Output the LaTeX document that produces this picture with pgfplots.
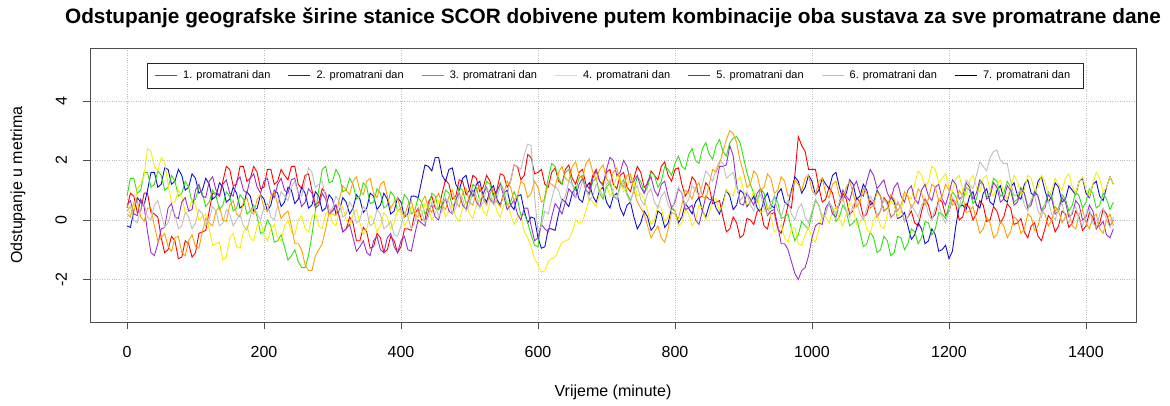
\documentclass[border=0pt]{standalone}
\usepackage{pgfplots}
\pgfplotsset{compat=1.18}
\usepackage{fontspec}
\setmainfont{Liberation Sans}
\definecolor{sred}{HTML}{FF0000}
\definecolor{sblue}{HTML}{1010D0}
\definecolor{sgreen}{HTML}{30E010}
\definecolor{syellow}{HTML}{F5F000}
\definecolor{spurple}{HTML}{9932CC}
\definecolor{sorange}{HTML}{FF9F00}
\definecolor{sgrey}{HTML}{BEBEBE}
\definecolor{lred}{HTML}{E02030}
\definecolor{lblue}{HTML}{2020B0}
\definecolor{lgreen}{HTML}{20D020}
\definecolor{lyellow}{HTML}{F0F020}
\definecolor{lbrown}{HTML}{A52A2A}
\definecolor{lgold}{HTML}{E8D000}
\begin{document}
\begin{tikzpicture}[x=1pt,y=1pt]
\begin{axis}[
  name=ax, scale only axis,
  width=1046pt, height=274pt,
  xmin=-54, xmax=1473, ymin=-3.43, ymax=5.78,
  xtick={0,200,...,1400}, ytick={-2,0,2,4},
  grid=major, grid style={dotted, gray!50, line width=0.7pt},
  tick align=outside, major tick length=7pt,
  xtick pos=bottom, ytick pos=left,
  axis line style={line width=0.8pt, black!70},
  every tick/.style={line width=0.8pt, black!70},
  /pgf/number format/assume math mode=true,
  /pgf/number format/1000 sep={},
  ticklabel style={font=\fontsize{16}{19}\selectfont, inner sep=0pt},
  xticklabel style={anchor=north, yshift=-17pt},
  yticklabel style={xshift=-16pt, rotate=90, anchor=south},
  every axis plot/.append style={line width=0.9pt},
]
\addplot[sred] table[row sep=\\, x expr=\coordindex*5, y index=0] {y\\0.4\\0.9\\0.8\\0.25\\0.3\\0.9\\0.9\\0.25\\0.2\\0.1\\-0.6\\-1.1\\-1.0\\-0.55\\-0.7\\-1.3\\-1.25\\-0.7\\-0.8\\-1.25\\-1.1\\-0.45\\-0.4\\-0.35\\0.3\\0.9\\0.9\\0.8\\1.3\\1.8\\1.7\\1.15\\1.2\\1.8\\1.8\\1.3\\1.4\\1.8\\1.6\\1.05\\1.1\\1.7\\1.7\\1.2\\1.3\\1.7\\1.5\\1.35\\1.8\\1.8\\1.2\\1.05\\1.5\\1.55\\1.0\\0.5\\0.6\\1.05\\0.9\\0.3\\0.3\\0.5\\0.1\\-0.4\\-0.3\\0.1\\-0.1\\-0.7\\-0.7\\-0.25\\-0.4\\-0.95\\-0.9\\-0.45\\-0.6\\-1.1\\-1.0\\-0.55\\-0.7\\-1.1\\-0.9\\-0.3\\-0.3\\-0.35\\0.2\\0.4\\0.0\\0.0\\0.6\\0.8\\0.4\\0.35\\0.9\\1.35\\1.2\\0.7\\0.8\\1.35\\1.3\\0.85\\1.0\\1.5\\1.4\\0.95\\1.1\\1.5\\1.3\\0.85\\1.0\\1.55\\1.5\\1.1\\1.3\\1.85\\1.8\\1.35\\1.5\\2.2\\2.1\\1.55\\1.6\\1.7\\1.2\\1.1\\1.6\\1.75\\1.3\\1.2\\1.7\\1.85\\1.4\\1.2\\1.6\\1.7\\1.2\\1.05\\1.5\\1.7\\1.3\\1.15\\1.6\\1.7\\1.2\\1.05\\1.5\\1.6\\1.1\\0.95\\1.4\\1.8\\1.6\\1.1\\1.2\\1.65\\1.5\\1.35\\1.8\\1.95\\1.5\\1.3\\1.7\\1.75\\1.2\\0.8\\1.0\\1.45\\1.3\\0.75\\0.8\\1.25\\1.1\\0.55\\0.6\\0.65\\0.1\\-0.4\\-0.3\\0.1\\-0.1\\-0.6\\-0.5\\0.05\\0.0\\-0.15\\0.3\\0.35\\-0.2\\-0.3\\0.2\\0.25\\-0.3\\-0.45\\0.0\\0.5\\0.4\\1.5\\2.8\\2.5\\2.3\\1.7\\1.7\\1.7\\1.1\\0.6\\0.7\\1.1\\0.9\\0.4\\0.5\\0.9\\0.7\\0.2\\0.3\\0.75\\0.6\\0.1\\0.2\\0.65\\0.5\\0.1\\0.3\\0.75\\0.6\\0.1\\0.2\\0.6\\0.4\\-0.05\\0.1\\0.3\\-0.1\\-0.2\\0.3\\0.7\\0.5\\0.05\\0.2\\0.7\\0.6\\0.15\\0.3\\0.7\\0.5\\0.0\\0.1\\0.55\\0.4\\0.0\\0.2\\0.65\\0.5\\-0.05\\0.0\\0.45\\0.3\\-0.1\\0.1\\0.55\\0.4\\-0.15\\-0.1\\0.05\\-0.4\\-0.6\\-0.2\\-0.1\\-0.55\\-0.7\\-0.3\\0.15\\0.0\\-0.4\\-0.2\\0.3\\0.2\\-0.25\\-0.1\\0.3\\0.1\\-0.35\\-0.2\\0.25\\0.1\\-0.3\\-0.1\\0.35\\0.2\\-0.2\\0.0\\};
\addplot[sblue] table[row sep=\\, x expr=\coordindex*5, y index=0] {y\\-0.2\\-0.25\\0.3\\0.75\\0.6\\0.5\\1.0\\1.6\\1.6\\1.1\\1.2\\1.75\\1.7\\1.2\\1.3\\1.7\\1.5\\1.0\\1.1\\1.55\\1.4\\0.9\\1.0\\1.4\\1.2\\0.7\\0.8\\1.25\\1.1\\0.6\\0.7\\1.1\\0.9\\0.4\\0.5\\0.95\\0.8\\0.3\\0.4\\0.85\\0.7\\0.3\\0.5\\1.0\\0.9\\0.45\\0.6\\1.1\\1.0\\0.55\\0.7\\1.1\\0.9\\0.4\\0.5\\0.95\\0.8\\0.3\\0.4\\0.85\\0.7\\0.2\\0.3\\0.75\\0.6\\0.2\\0.4\\0.85\\0.7\\0.25\\0.4\\0.9\\0.8\\0.35\\0.5\\0.9\\0.7\\0.2\\0.3\\0.75\\0.6\\0.1\\0.2\\0.8\\0.8\\0.75\\1.3\\1.85\\1.8\\1.65\\2.1\\2.1\\1.5\\1.3\\1.7\\1.75\\1.2\\1.0\\1.4\\1.5\\1.0\\0.8\\1.2\\1.3\\0.8\\0.6\\1.0\\1.15\\0.7\\0.5\\0.9\\1.0\\0.5\\0.35\\0.8\\0.85\\0.3\\-0.1\\0.1\\0.05\\-0.6\\-0.95\\-0.9\\-0.3\\-0.3\\-0.35\\0.2\\0.7\\0.6\\0.45\\0.9\\1.1\\0.7\\0.6\\1.1\\1.25\\0.8\\0.6\\1.0\\1.1\\0.6\\0.4\\0.8\\0.9\\0.4\\0.15\\0.5\\0.6\\0.1\\-0.3\\-0.1\\0.3\\0.1\\-0.35\\-0.2\\0.3\\0.2\\-0.25\\-0.1\\0.4\\0.3\\-0.1\\0.1\\0.55\\0.4\\0.2\\0.6\\0.75\\0.3\\0.1\\0.5\\0.75\\0.4\\0.2\\0.6\\1.0\\0.8\\0.35\\0.5\\1.0\\0.9\\0.45\\0.6\\0.8\\0.4\\0.25\\0.7\\0.9\\0.5\\0.4\\0.9\\1.05\\0.6\\0.5\\1.0\\1.45\\1.3\\0.9\\1.1\\1.5\\1.3\\0.85\\1.0\\1.4\\1.2\\1.05\\1.5\\1.6\\1.1\\0.7\\0.9\\1.35\\1.2\\0.7\\0.8\\1.2\\1.0\\0.5\\0.6\\1.0\\0.8\\0.3\\0.4\\0.8\\0.6\\0.05\\0.1\\0.25\\-0.2\\-0.65\\-0.5\\-0.1\\-0.3\\-0.8\\-0.7\\-0.3\\-0.5\\-1.05\\-1.0\\-0.85\\-1.3\\-1.05\\-0.2\\0.45\\0.5\\0.35\\0.8\\0.95\\0.5\\0.4\\0.9\\1.05\\0.6\\0.5\\1.0\\1.15\\0.7\\0.6\\1.1\\1.25\\0.8\\0.7\\1.2\\1.35\\0.9\\0.8\\1.3\\1.45\\1.0\\0.6\\0.8\\1.25\\1.1\\0.6\\0.7\\1.15\\1.0\\0.85\\1.3\\1.4\\0.9\\0.75\\1.2\\1.3\\0.8\\0.65\\1.1\\1.45\\1.2\\};
\addplot[sgreen] table[row sep=\\, x expr=\coordindex*5, y index=0] {y\\0.8\\1.4\\1.4\\0.9\\1.0\\1.6\\1.6\\1.1\\1.2\\1.65\\1.5\\1.0\\1.1\\1.5\\1.3\\0.8\\0.9\\1.3\\1.1\\0.6\\0.7\\1.1\\0.9\\0.45\\0.6\\1.0\\0.8\\0.35\\0.5\\0.95\\0.8\\0.3\\0.4\\0.85\\0.7\\0.2\\0.3\\0.5\\0.1\\-0.45\\-0.4\\0.0\\-0.2\\-0.75\\-0.7\\-0.5\\-0.9\\-1.35\\-1.2\\-1.0\\-1.4\\-1.6\\-1.6\\-1.2\\-0.5\\0.3\\1.0\\1.7\\1.8\\1.25\\1.3\\1.7\\1.5\\0.95\\1.0\\1.4\\1.2\\0.7\\0.8\\1.25\\1.1\\0.55\\0.6\\1.05\\0.9\\0.4\\0.5\\0.95\\0.8\\0.3\\0.4\\0.85\\0.7\\0.2\\0.3\\0.75\\0.6\\0.2\\0.4\\0.9\\0.8\\0.35\\0.5\\1.0\\0.9\\0.45\\0.6\\1.1\\1.0\\0.55\\0.7\\1.2\\1.1\\0.65\\0.8\\1.3\\1.2\\0.75\\0.9\\1.25\\1.0\\0.5\\0.6\\0.95\\0.7\\0.15\\0.2\\-0.1\\-0.5\\-0.85\\-0.9\\0.0\\0.8\\1.4\\1.9\\1.8\\1.4\\1.2\\1.6\\1.7\\1.2\\1.0\\1.4\\1.5\\1.0\\0.85\\1.3\\1.4\\0.9\\0.7\\1.1\\1.25\\0.8\\0.7\\1.2\\1.35\\0.9\\0.65\\1.0\\1.45\\1.3\\0.9\\1.1\\1.6\\1.5\\1.1\\1.3\\1.8\\1.7\\1.5\\1.9\\2.15\\1.8\\1.7\\2.2\\2.4\\2.0\\1.9\\2.4\\2.6\\2.2\\2.05\\2.5\\2.7\\2.3\\2.15\\2.6\\2.75\\2.8\\2.6\\2.1\\1.6\\1.2\\0.9\\0.6\\1.05\\0.9\\0.35\\0.4\\0.8\\0.6\\0.05\\0.1\\0.2\\-0.3\\-0.7\\-0.5\\-0.05\\-0.2\\-0.3\\0.2\\0.65\\0.5\\0.05\\0.2\\0.6\\0.4\\-0.05\\0.1\\0.5\\0.3\\-0.2\\-0.1\\0.05\\-0.4\\-0.9\\-0.8\\-0.4\\-0.6\\-1.1\\-1.0\\-0.55\\-0.7\\-1.2\\-1.1\\-0.55\\-0.6\\-1.0\\-0.8\\-0.3\\-0.4\\-0.8\\-0.6\\-0.05\\-0.1\\-0.5\\-0.3\\0.25\\0.2\\0.05\\0.5\\0.95\\0.8\\0.4\\0.6\\1.1\\1.0\\0.55\\0.7\\1.25\\1.2\\0.75\\0.9\\1.4\\1.3\\0.8\\0.9\\1.3\\1.1\\0.6\\0.7\\1.1\\0.9\\0.45\\0.6\\1.0\\0.8\\0.35\\0.5\\0.95\\0.8\\0.3\\0.4\\0.85\\0.7\\0.3\\0.5\\0.95\\0.8\\0.4\\0.6\\1.05\\0.9\\0.4\\0.5\\0.9\\0.7\\0.35\\0.6\\};
\addplot[syellow] table[row sep=\\, x expr=\coordindex*5, y index=0] {y\\0.6\\0.15\\0.3\\1.05\\1.2\\1.5\\2.4\\2.3\\1.8\\1.65\\2.1\\1.95\\1.2\\0.6\\0.6\\1.0\\0.8\\0.25\\0.3\\0.7\\0.5\\0.0\\0.1\\0.2\\-0.3\\-0.85\\-0.8\\-0.75\\-1.35\\-1.25\\-0.6\\-0.45\\-0.9\\-0.95\\-0.4\\-0.2\\-0.6\\-0.7\\-0.2\\-0.05\\-0.5\\-0.7\\-0.3\\-0.15\\-0.6\\-0.7\\-0.2\\0.0\\-0.4\\-0.5\\0.0\\0.15\\-0.3\\-0.4\\0.1\\0.25\\-0.2\\-0.3\\0.2\\0.35\\-0.1\\-0.2\\0.3\\0.45\\0.0\\-0.2\\0.2\\0.35\\-0.1\\-0.5\\-0.3\\0.15\\0.0\\-0.4\\-0.2\\0.25\\0.1\\-0.3\\-0.1\\0.35\\0.2\\-0.2\\0.0\\0.45\\0.3\\-0.1\\0.1\\0.55\\0.4\\0.0\\0.2\\0.65\\0.5\\0.1\\0.3\\0.5\\0.1\\-0.05\\0.4\\0.6\\0.2\\0.05\\0.5\\0.7\\0.3\\0.15\\0.6\\0.75\\0.3\\0.1\\0.5\\0.65\\0.2\\-0.15\\0.1\\0.15\\-0.4\\-0.6\\-0.9\\-1.3\\-1.5\\-1.75\\-1.7\\-1.4\\-1.3\\-1.25\\-1.0\\-0.75\\-0.7\\-0.65\\-0.4\\0.0\\-0.1\\-0.05\\0.3\\0.75\\0.6\\0.45\\0.9\\1.35\\1.2\\0.8\\1.0\\1.5\\1.4\\0.95\\1.1\\1.5\\1.3\\0.8\\0.9\\0.7\\0.3\\-0.15\\0.0\\0.5\\0.4\\-0.05\\0.1\\0.5\\0.3\\-0.2\\-0.1\\0.35\\0.2\\-0.2\\0.0\\0.5\\0.4\\0.0\\0.2\\0.75\\0.7\\0.3\\0.5\\1.0\\0.9\\0.8\\1.3\\1.45\\1.0\\0.5\\0.6\\1.0\\0.8\\0.25\\0.3\\0.5\\0.1\\-0.4\\-0.3\\-0.15\\-0.6\\-0.75\\-0.3\\-0.25\\-0.8\\-0.85\\-0.5\\-0.25\\-0.6\\-0.75\\-0.3\\0.2\\0.1\\-0.1\\0.3\\0.45\\0.0\\-0.2\\0.2\\0.6\\0.4\\-0.15\\-0.1\\0.1\\-0.3\\-0.45\\0.0\\0.2\\-0.2\\-0.3\\0.2\\0.65\\0.5\\0.1\\0.3\\0.85\\0.8\\0.7\\1.2\\1.65\\1.5\\1.1\\1.3\\1.8\\1.7\\1.25\\1.4\\1.55\\1.1\\0.95\\1.4\\1.5\\1.0\\0.85\\1.3\\1.5\\1.1\\0.95\\1.4\\1.5\\1.0\\0.8\\1.2\\1.35\\0.9\\0.7\\1.1\\1.5\\1.3\\0.85\\1.0\\1.5\\1.4\\0.95\\1.1\\1.5\\1.3\\0.85\\1.0\\1.4\\1.2\\1.0\\1.4\\1.55\\1.1\\0.9\\1.3\\1.45\\1.0\\0.8\\1.2\\1.6\\1.4\\0.95\\1.1\\1.45\\1.2\\};
\addplot[spurple] table[row sep=\\, x expr=\coordindex*5, y index=0] {y\\0.5\\0.65\\0.2\\0.15\\0.7\\0.45\\-0.4\\-1.1\\-1.2\\-0.8\\-0.3\\-0.25\\0.4\\0.55\\0.1\\0.05\\0.6\\0.75\\0.3\\0.35\\1.0\\1.2\\0.8\\0.75\\1.3\\1.45\\1.0\\0.8\\1.2\\1.35\\0.9\\0.8\\1.3\\1.45\\1.0\\0.9\\1.4\\1.55\\1.1\\0.9\\1.3\\1.4\\0.9\\0.75\\1.2\\1.4\\1.0\\0.9\\1.35\\1.4\\0.9\\0.45\\0.6\\1.05\\0.9\\0.4\\0.5\\0.9\\0.7\\0.2\\0.3\\0.5\\0.1\\-0.4\\-0.3\\-0.15\\-0.6\\-1.05\\-0.9\\-0.7\\-1.1\\-1.2\\-0.7\\-0.55\\-1.0\\-1.1\\-0.6\\-0.45\\-0.9\\-1.1\\-0.7\\-0.55\\-1.0\\-1.05\\-0.5\\0.0\\-0.1\\-0.2\\0.3\\0.5\\0.1\\0.0\\0.5\\0.7\\0.3\\0.2\\0.7\\0.9\\0.5\\0.35\\0.8\\1.0\\0.6\\0.45\\0.9\\1.1\\0.7\\0.55\\1.0\\1.2\\0.8\\0.35\\0.5\\0.65\\0.2\\0.0\\0.4\\0.4\\-0.2\\-0.7\\-0.6\\-0.15\\-0.3\\-0.4\\0.1\\0.55\\0.4\\0.2\\0.6\\1.05\\0.9\\0.75\\1.2\\1.4\\1.0\\0.9\\1.4\\1.65\\1.3\\1.2\\1.7\\2.1\\2.0\\1.5\\1.6\\2.0\\1.8\\1.25\\1.3\\1.5\\1.1\\0.9\\1.3\\1.45\\1.0\\0.8\\1.2\\1.3\\0.8\\0.4\\0.6\\1.05\\0.9\\0.35\\0.4\\0.5\\0.0\\-0.15\\0.3\\0.8\\0.7\\0.65\\1.2\\1.8\\1.8\\1.85\\2.5\\2.15\\1.2\\0.55\\0.5\\0.9\\0.7\\0.5\\0.9\\1.05\\0.6\\0.15\\0.3\\0.35\\-0.2\\-0.8\\-0.8\\-1.0\\-1.4\\-1.8\\-2.0\\-1.7\\-1.6\\-1.2\\-0.6\\-0.2\\-0.1\\-0.15\\0.4\\0.6\\0.2\\0.1\\0.6\\1.0\\0.8\\0.65\\1.1\\1.3\\0.9\\0.8\\1.3\\1.7\\1.5\\1.05\\1.2\\1.35\\0.9\\0.7\\1.1\\1.25\\0.8\\0.6\\1.0\\1.15\\0.7\\0.55\\1.0\\1.2\\0.8\\0.65\\1.1\\1.2\\0.7\\0.5\\0.9\\1.35\\1.2\\0.7\\0.8\\1.25\\1.1\\0.7\\0.9\\1.35\\1.2\\0.7\\0.8\\1.25\\1.1\\0.6\\0.7\\1.15\\1.0\\0.5\\0.6\\1.05\\0.9\\0.4\\0.5\\0.95\\0.8\\0.3\\0.4\\0.85\\0.7\\0.2\\0.3\\0.75\\0.6\\0.1\\0.2\\0.65\\0.5\\0.0\\0.1\\0.5\\0.3\\-0.25\\-0.2\\-0.05\\-0.5\\-0.6\\-0.3\\};
\addplot[sorange] table[row sep=\\, x expr=\coordindex*5, y index=0] {y\\0.2\\0.1\\0.6\\0.65\\0.1\\-0.05\\0.4\\0.4\\-0.2\\-0.7\\-0.6\\-0.45\\-0.9\\-1.05\\-0.6\\-0.55\\-1.1\\-1.2\\-0.7\\-0.5\\-0.9\\-0.95\\-0.4\\0.05\\-0.1\\-0.2\\0.3\\0.45\\0.0\\-0.05\\0.5\\0.65\\0.2\\0.1\\0.6\\0.75\\0.3\\0.2\\0.7\\0.85\\0.4\\0.3\\0.8\\0.95\\0.5\\0.05\\0.2\\0.3\\-0.2\\-0.8\\-0.8\\-1.0\\-1.5\\-1.7\\-1.7\\-1.2\\-1.0\\-0.8\\-0.3\\0.25\\0.2\\0.15\\0.7\\1.15\\1.0\\0.85\\1.3\\1.45\\1.0\\0.85\\1.3\\1.4\\0.9\\0.75\\1.2\\1.3\\0.8\\0.4\\0.6\\0.75\\0.3\\0.1\\0.5\\0.65\\0.2\\0.1\\0.6\\0.8\\0.4\\0.25\\0.7\\0.9\\0.5\\0.35\\0.8\\1.0\\0.6\\0.45\\0.9\\1.05\\0.6\\0.5\\1.0\\1.15\\0.7\\0.5\\0.9\\1.05\\0.6\\0.45\\0.9\\1.3\\1.1\\0.65\\0.8\\1.3\\1.2\\0.75\\0.9\\1.3\\1.1\\0.6\\0.7\\1.25\\1.2\\1.1\\1.6\\1.8\\1.4\\1.3\\1.8\\1.95\\1.5\\1.4\\1.9\\2.05\\1.6\\1.35\\1.7\\1.85\\1.4\\1.2\\1.6\\1.75\\1.3\\1.1\\1.5\\1.55\\1.0\\0.6\\0.4\\0.2\\-0.2\\-0.6\\-0.4\\-0.2\\-0.6\\-0.75\\-0.3\\0.25\\0.2\\0.05\\0.5\\1.0\\0.9\\0.7\\1.1\\1.25\\0.8\\0.7\\1.2\\1.7\\1.6\\1.9\\2.3\\2.7\\3.0\\2.9\\2.6\\2.0\\1.6\\1.1\\1.2\\1.65\\1.5\\1.0\\1.1\\1.55\\1.4\\0.9\\1.0\\1.45\\1.3\\0.8\\0.9\\1.35\\1.2\\1.0\\1.4\\1.5\\1.0\\0.85\\1.3\\1.4\\0.9\\0.75\\1.2\\1.3\\0.8\\0.65\\1.1\\1.3\\0.9\\0.45\\0.6\\1.05\\0.9\\0.4\\0.5\\0.95\\0.8\\0.3\\0.4\\0.85\\0.7\\0.3\\0.5\\0.95\\0.8\\0.4\\0.6\\1.05\\0.9\\0.5\\0.7\\1.2\\1.1\\0.65\\0.8\\1.2\\1.0\\0.5\\0.6\\1.0\\0.8\\0.25\\0.3\\0.45\\0.0\\-0.45\\-0.3\\0.1\\-0.1\\-0.6\\-0.5\\-0.05\\-0.2\\-0.6\\-0.4\\0.1\\0.0\\-0.45\\-0.3\\0.2\\0.1\\-0.35\\-0.2\\0.3\\0.2\\-0.2\\0.0\\0.45\\0.3\\-0.1\\0.1\\0.25\\-0.2\\-0.3\\0.2\\0.35\\-0.1\\-0.3\\0.1\\0.2\\-0.3\\-0.45\\0.0\\0.2\\-0.2\\};
\addplot[sgrey] table[row sep=\\, x expr=\coordindex*5, y index=0] {y\\0.3\\0.45\\0.0\\-0.1\\0.4\\0.55\\0.1\\0.0\\0.5\\0.65\\0.2\\-0.25\\-0.1\\0.35\\0.2\\-0.3\\-0.2\\0.25\\0.1\\-0.3\\-0.1\\0.35\\0.2\\-0.2\\0.0\\0.45\\0.3\\-0.2\\-0.1\\0.35\\0.2\\-0.2\\0.0\\0.2\\-0.2\\-0.35\\0.1\\0.45\\0.2\\0.0\\0.4\\0.55\\0.1\\0.0\\0.5\\0.95\\0.8\\0.65\\1.1\\1.3\\0.9\\0.8\\1.3\\1.75\\1.6\\1.1\\1.2\\1.3\\0.8\\0.3\\0.4\\0.8\\0.6\\0.1\\0.2\\0.6\\0.4\\-0.1\\0.0\\0.45\\0.3\\-0.2\\-0.1\\0.35\\0.2\\-0.3\\-0.2\\-0.05\\-0.5\\-0.55\\-0.2\\0.25\\0.1\\-0.3\\-0.1\\0.4\\0.3\\-0.1\\0.1\\0.6\\0.5\\0.1\\0.3\\0.75\\0.6\\0.2\\0.4\\0.85\\0.7\\0.3\\0.5\\0.95\\0.8\\0.4\\0.6\\1.05\\0.9\\0.5\\0.7\\1.15\\1.0\\0.85\\1.3\\1.85\\1.8\\1.7\\2.2\\2.55\\2.5\\0.8\\-0.4\\-0.2\\0.3\\0.2\\0.7\\1.15\\1.0\\0.6\\0.8\\1.3\\1.2\\0.75\\0.9\\1.3\\1.1\\0.65\\0.8\\1.2\\1.0\\0.8\\1.2\\1.35\\0.9\\0.7\\1.1\\1.25\\0.8\\0.6\\1.0\\1.15\\0.7\\0.5\\0.9\\1.05\\0.6\\0.4\\0.8\\0.95\\0.5\\0.3\\0.7\\1.1\\0.9\\0.5\\0.7\\1.15\\1.0\\0.8\\1.2\\1.65\\1.5\\1.3\\1.7\\2.0\\1.9\\1.4\\1.5\\1.6\\1.1\\0.65\\0.8\\0.95\\0.5\\0.3\\0.7\\0.85\\0.4\\0.2\\0.6\\0.75\\0.3\\0.1\\0.5\\0.65\\0.2\\0.0\\0.4\\0.55\\0.1\\-0.1\\0.3\\0.7\\0.5\\0.05\\0.2\\0.6\\0.4\\0.2\\0.6\\0.75\\0.3\\0.1\\0.5\\0.65\\0.2\\0.0\\0.4\\0.8\\0.6\\0.15\\0.3\\0.7\\0.5\\0.05\\0.2\\0.6\\0.4\\-0.05\\0.1\\0.5\\0.3\\0.1\\0.5\\0.65\\0.2\\0.0\\0.4\\0.55\\0.1\\-0.1\\0.3\\0.75\\0.6\\0.45\\0.9\\1.35\\1.2\\1.05\\1.5\\1.95\\1.8\\1.65\\2.1\\2.3\\2.35\\2.0\\1.9\\1.9\\1.3\\0.8\\0.9\\1.0\\0.5\\0.3\\0.7\\0.8\\0.3\\0.1\\0.5\\0.65\\0.2\\0.0\\0.4\\0.55\\0.1\\-0.1\\0.3\\0.45\\0.0\\-0.2\\0.2\\0.35\\-0.1\\-0.25\\0.2\\0.4\\0.0\\-0.25\\0.1\\};
\end{axis}
\begin{scope}[shift={(ax.south west)}, xshift=-90pt, yshift=-83pt]
\path (0,0) rectangle (1170,405);
\node[font=\fontsize{20.8}{24}\selectfont\bfseries] at (613,387) {Odstupanje geografske širine stanice SCOR dobivene putem kombinacije oba sustava za sve promatrane dane};
\node[font=\fontsize{16}{19}\selectfont] at (613,13) {Vrijeme (minute)};
\node[font=\fontsize{16}{19}\selectfont, rotate=90] at (18,220) {Odstupanje u metrima};
\draw[black!85, line width=0.8pt, fill=white] (147,317) rectangle (1083,342);
\foreach \i/\c/\n in {0/lred/1,1/lblue/2,2/lgreen/3,3/lyellow/4,4/lbrown/5,5/lgold/6,6/black/7} {
  \draw[\c, line width=1pt] ({155+133.3*\i},329.5) -- ++(22,0);
  \node[anchor=west, inner sep=0pt, font=\fontsize{11}{13}\selectfont] at ({183+133.3*\i},329.5) {\n. promatrani dan};
}
\end{scope}
\end{tikzpicture}
\end{document}
